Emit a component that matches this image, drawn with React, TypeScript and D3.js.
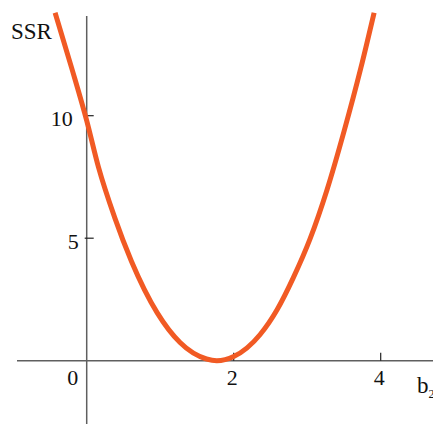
import React from 'react';
import * as d3 from 'd3';

const width = 433;
const height = 424;

// curve: b2 -> SSR
const bValues = [-0.43, -0.2, 0, 0.16, 0.38, 0.61, 0.96, 1.27, 1.63, 1.77, 2.0, 2.36, 2.59, 2.81, 3.04, 3.27, 3.5, 3.73, 3.91];
const ssrValues = [14.2, 11.9, 9.8, 7.9, 5.85, 4.05, 1.95, 0.74, 0.07, 0.0, 0.17, 1.07, 2.08, 3.38, 4.98, 6.98, 9.35, 11.95, 14.2];

const xTicks = [0, 2, 4];
const yTicks = [5, 10];
const xLabel = 'b';
const xLabelSub = '2';
const yLabel = 'SSR';

const font = "'Liberation Serif', 'Times New Roman', serif";
const axisColor = '#5f5f5f';
const curveColor = '#f15a24';

const x = d3.scaleLinear().domain([0, 4]).range([86.7, 380.7]);
const y = d3.scaleLinear().domain([0, 10]).range([360.7, 115.7]);

const line = d3
  .line<number>()
  .x(i => x(bValues[i]))
  .y(i => y(ssrValues[i]))
  .curve(d3.curveMonotoneX);

const textStyle = { fontFamily: font, fill: '#111' };

export default function App() {
  const x0 = x(0);
  const y0 = y(0);
  return (
    <svg
      width={width}
      height={height}
      style={{ position: 'absolute', left: 0, top: 0, background: '#fff' }}
    >
      {/* axes */}
      <line x1={x0} x2={x0} y1={16} y2={height} stroke={axisColor} strokeWidth={1.5} />
      <line x1={17} x2={width} y1={y0} y2={y0} stroke={axisColor} strokeWidth={1.5} />

      {xTicks.filter(t => t !== 0).map(t => (
        <line key={'xt' + t} x1={x(t)} x2={x(t)} y1={y0 - 8} y2={y0} stroke="#222" strokeWidth={1.2} />
      ))}
      {yTicks.map(t => (
        <line key={'yt' + t} x1={x0 - 2} x2={x0 + 7} y1={y(t)} y2={y(t)} stroke="#222" strokeWidth={1.2} />
      ))}

      {xTicks.map(t => (
        <text
          key={'xl' + t}
          x={t === 0 ? x0 - 14 : x(t) - 1.5}
          y={y0 + 24}
          fontSize={22}
          textAnchor="middle"
          style={textStyle}
        >
          {t}
        </text>
      ))}
      {yTicks.map(t => (
        <text
          key={'yl' + t}
          x={x0 - (t === 10 ? 14 : 8)}
          y={y(t) + 10.5}
          fontSize={22}
          textAnchor="end"
          style={textStyle}
        >
          {t}
        </text>
      ))}

      <text x={11} y={38.5} fontSize={23} style={textStyle}>
        {yLabel}
      </text>
      <text x={417} y={393} fontSize={23} style={textStyle}>
        {xLabel}
        <tspan fontSize={12} dy={5}>
          {xLabelSub}
        </tspan>
      </text>

      <path d={line(d3.range(bValues.length)) || ''} fill="none" stroke={curveColor} strokeWidth={5} />
    </svg>
  );
}
